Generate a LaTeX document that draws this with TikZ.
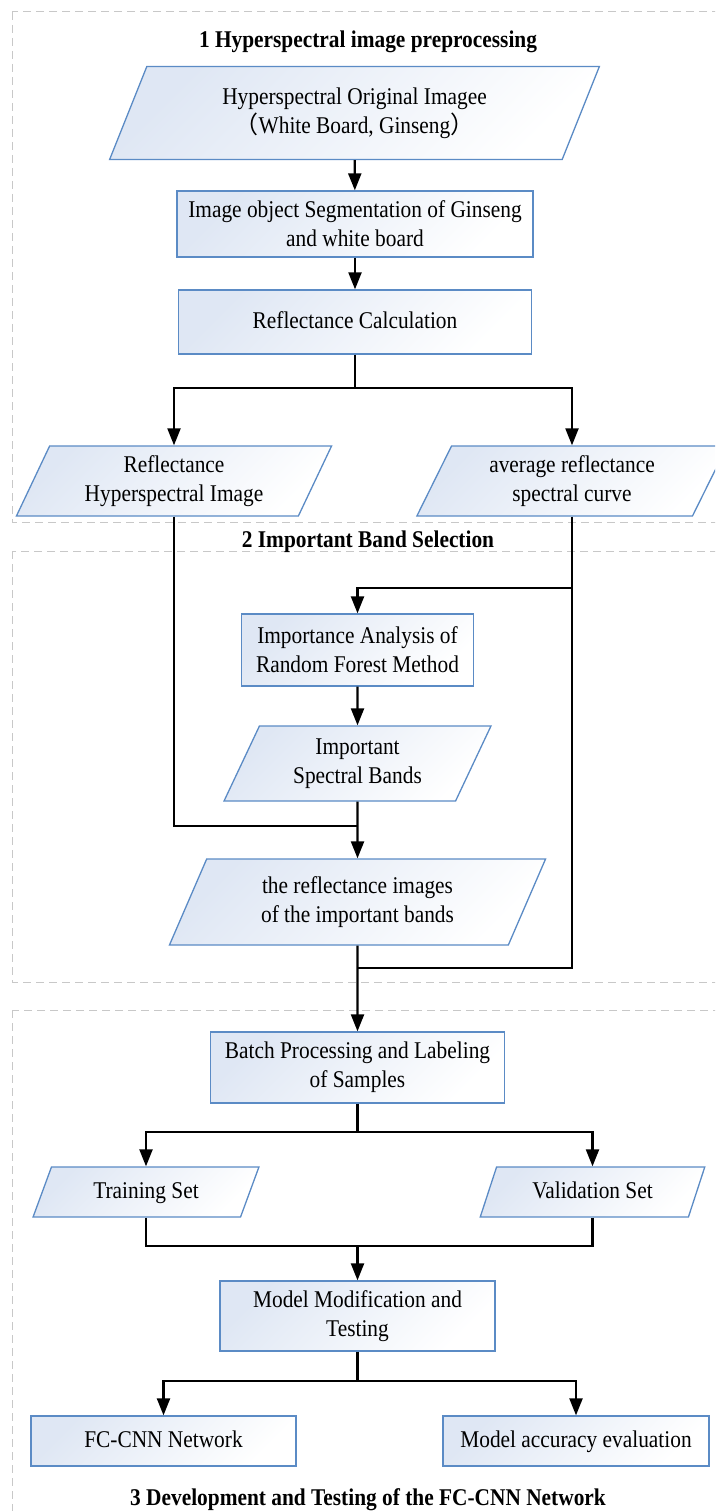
\documentclass[tikz,border=0pt]{standalone}
\usepackage{fontspec}
\setmainfont{Liberation Serif}[FakeStretch=0.89]
\newfontfamily\cjkparen{Noto Sans CJK SC}
\usetikzlibrary{shapes.geometric,arrows.meta,positioning}
\definecolor{boxline}{HTML}{5B8BC5}
\definecolor{boxfill}{HTML}{DFE7F4}
\definecolor{framegray}{HTML}{C8C8C8}
\tikzset{
    procbox/.style={draw=boxline, line width=1.3pt, top color=boxfill, bottom color=white,
        shading angle=45, inner sep=0pt, align=center, font=\fontsize{24}{29}\selectfont},
    databox/.style={procbox, trapezium, trapezium left angle=65, trapezium right angle=115,
        trapezium stretches=true},
    oneline/.style={text height=17pt, text depth=5pt},
    flow/.style={-{Triangle[length=17pt,width=13pt]}, line width=2.2pt},
    link/.style={line width=2.2pt},
    frame/.style={draw=framegray, dash pattern=on 8pt off 5pt, line width=1pt},
    sectitle/.style={font=\fontsize{24}{29}\selectfont\bfseries}
}
\begin{document}
\begin{tikzpicture}[x=1pt, y=-1pt]
    \useasboundingbox (0, 0) rectangle (715, 1511);
    \clip (0, 0) rectangle (715, 1511);
    % section frames
    \draw[frame] (12, 12) rectangle (740, 522);
    \draw[frame] (12, 551) rectangle (740, 982);
    \draw[frame] (12, 1010) rectangle (740, 1540);
    \node[sectitle] (t1) at (368, 42) {1 Hyperspectral image preprocessing};
    \node[sectitle] (t2) at (368, 542) {2 Important Band Selection};
    \node[sectitle] (t3) at (368, 1500) {3 Development and Testing of the FC-CNN Network};

    % section 1
    \node[databox, minimum width=490pt, minimum height=93pt] (orig) at (354.5, 113) {Hyperspectral Original Imagee\\{\cjkparen （}White Board, Ginseng{\cjkparen ）}};
    \node[procbox, minimum width=356pt, minimum height=66pt] (segm) at (355, 224) {Image object Segmentation of Ginseng\\and white board};
    \node[procbox, oneline, minimum width=353pt, minimum height=64pt] (refl) at (355, 322) {Reflectance Calculation};
    \node[databox, minimum width=316pt, minimum height=70pt] (rimg) at (174, 481) {Reflectance\\Hyperspectral Image};
    \node[databox, minimum width=311pt, minimum height=70pt] (avgc) at (572, 481) {average reflectance\\spectral curve};

    % section 2
    \node[procbox, minimum width=232pt, minimum height=72pt] (rfor) at (357.5, 650) {Importance Analysis of\\Random Forest Method};
    \node[databox, minimum width=267pt, minimum height=75pt] (band) at (357.5, 763.5) {Important\\Spectral Bands};
    \node[databox, minimum width=377pt, minimum height=86pt] (bimg) at (357.5, 902) {the reflectance images\\of the important bands};

    % section 3
    \node[procbox, minimum width=294pt, minimum height=71pt] (batch) at (357.5, 1067.5) {Batch Processing and Labeling\\of Samples};
    \node[databox, oneline, minimum width=226pt, minimum height=50pt] (train) at (146, 1192) {Training Set};
    \node[databox, oneline, minimum width=225pt, minimum height=50pt] (valid) at (592.5, 1192) {Validation Set};
    \node[procbox, minimum width=275pt, minimum height=70pt] (model) at (357.5, 1316) {Model Modification and\\Testing};
    \node[procbox, oneline, minimum width=265pt, minimum height=50pt] (fccnn) at (163.5, 1441) {FC-CNN Network};
    \node[procbox, oneline, minimum width=266pt, minimum height=50pt] (accu) at (576, 1441) {Model accuracy evaluation};

    % junctions
    \coordinate (s1) at (355, 388);
    \coordinate (b1) at (572, 588);
    \coordinate (j3) at (357.5, 826);
    \coordinate (j4) at (357.5, 968);
    \coordinate (s2) at (357.5, 1132);
    \coordinate (j5) at (357.5, 1246);
    \coordinate (s3) at (357.5, 1381);

    % connectors
    \draw[flow] (orig) -- (segm);
    \draw[flow] (segm) -- (refl);
    \draw[link] (refl) -- (s1);
    \draw[flow] (s1) -| (rimg);
    \draw[flow] (s1) -| (avgc);
    \draw[link] (avgc) |- (j4);
    \draw[flow] (b1) -| (rfor);
    \draw[flow] (rfor) -- (band);
    \draw[link] (rimg) |- (j3);
    \draw[flow] (band) -- (bimg);
    \draw[flow] (bimg) -- (batch);
    \draw[link] (batch) -- (s2);
    \draw[flow] (s2) -| (train);
    \draw[flow] (s2) -| (valid);
    \draw[link] (train) |- (j5);
    \draw[link] (valid) |- (j5);
    \draw[flow] (j5) -- (model);
    \draw[link] (model) -- (s3);
    \draw[flow] (s3) -| (fccnn);
    \draw[flow] (s3) -| (accu);
\end{tikzpicture}
\end{document}
